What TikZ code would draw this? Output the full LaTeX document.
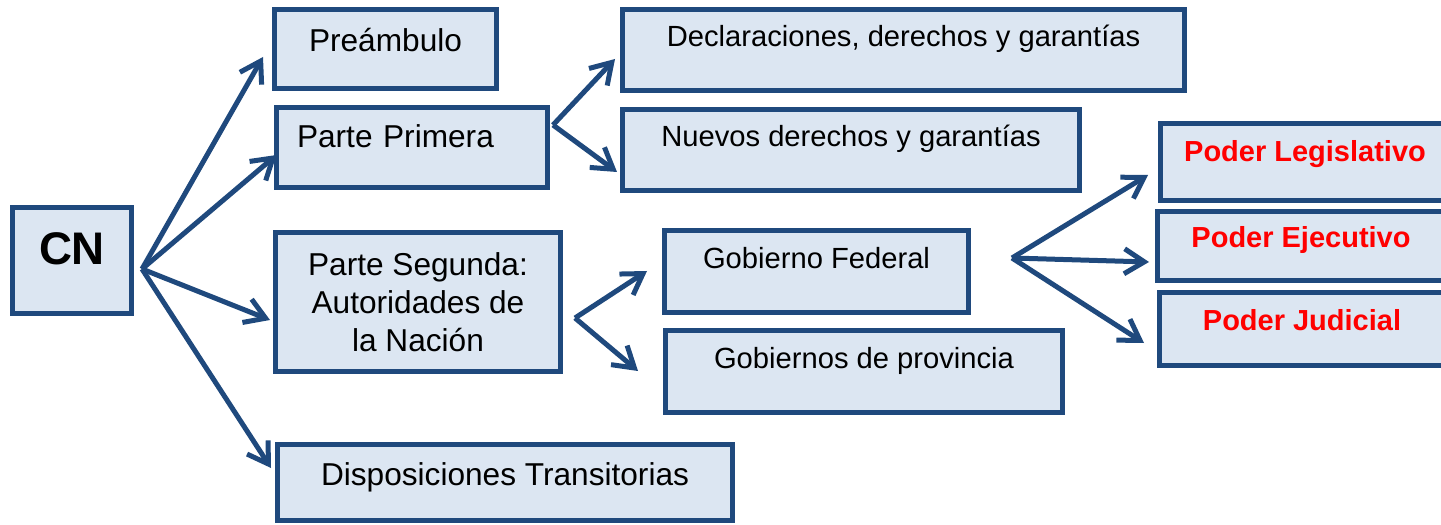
\documentclass[tikz,border=0pt]{standalone}
\usepackage{fontspec}
\setmainfont{Liberation Sans}
\usetikzlibrary{arrows.meta,calc}

\definecolor{azul}{HTML}{1F497D}
\definecolor{celeste}{HTML}{DCE6F2}

\tikzstyle{caja}=[draw=azul,fill=celeste,line width=1mm,inner sep=0pt,outer sep=0pt,anchor=north west,font=\fontsize{18}{21.6}\selectfont]
\tikzstyle{chica}=[font=\fontsize{16.6}{20}\selectfont]
\tikzstyle{poder}=[text=red,font=\fontsize{16.5}{20}\selectfont\bfseries]
\tikzstyle{flecha}=[draw=azul,line width=1mm,-{Straight Barb[length=4mm,width=5mm]}]

\begin{document}
\begin{tikzpicture}[x=0.2mm,y=-0.2mm]

\path[use as bounding box] (0,0) rectangle (1441,525);
\clip (0,0) rectangle (1441,525);

% CONSTITUCION

\node[caja,minimum width=23.8mm,text height=11.5mm,text depth=9.7mm,font=\fontsize{26}{30}\selectfont\bfseries] (cn) at (12.5,207.5) {CN};
\coordinate (cnout) at (142,269);

% PRIMER NIVEL

\node[caja,minimum width=44.4mm,text height=8.5mm,text depth=7.3mm] (pre) at (274.5,9.5) {Preámbulo};
\node[caja,text width=46mm,inner xsep=4.1mm,align=left,text height=8.1mm,text depth=7.9mm] (pp) at (276.5,107.5) {Parte Primera};
\node[caja,minimum width=57mm,minimum height=27.8mm,align=center] (ps) at (275.5,232.5) {Parte Segunda:\\Autoridades de\\la Nación};
\node[caja,minimum width=91mm,text height=8.1mm,text depth=7.1mm] (dt) at (277.5,444.5) {Disposiciones Transitorias};

% PARTE PRIMERA

\node[caja,chica,minimum width=112.4mm,text height=7.5mm,text depth=8.7mm] (dec) at (622.5,9.5) {Declaraciones, derechos y garantías};
\node[caja,chica,minimum width=91.4mm,text height=7.5mm,text depth=8.7mm] (nue) at (622.5,109.5) {Nuevos derechos y garantías};
\coordinate (ppout) at (553,125);

% PARTE SEGUNDA

\node[caja,chica,minimum width=60.8mm,text height=7.7mm,text depth=8.7mm] (gf) at (664.5,230.5) {Gobierno Federal};
\node[caja,chica,minimum width=79.4mm,text height=7.5mm,text depth=8.9mm] (gp) at (665.5,330.5) {Gobiernos de provincia};
\coordinate (psout) at (575,318);

% PODERES

\node[caja,poder,minimum width=57.8mm,text height=7.7mm,text depth=7.7mm] (pl) at (1160.5,123.5) {Poder Legislativo};
\node[caja,poder,minimum width=57.4mm,text height=7.3mm,text depth=6.5mm] (pe) at (1157.5,211.5) {Poder Ejecutivo};
\node[caja,poder,minimum width=57mm,text height=7.7mm,text depth=6.9mm] (pj) at (1159.5,292.5) {Poder Judicial};
\coordinate (gfout) at (1012,258);

% FLECHAS

\draw[flecha] (cnout) -- ($(pre.west)+(-11.5,8)$);
\draw[flecha] (cnout) -- ($(pp.west)+(0,7.5)$);
\draw[flecha] (cnout) -- ($(ps.west)+(-5.5,18)$);
\draw[flecha] (cnout) -- ($(dt.west)+(-6.5,-14.5)$);

\draw[flecha] (ppout) -- ($(dec.west)+(-7.5,9)$);
\draw[flecha] (ppout) -- ($(nue.west)+(-5.5,22)$);

\draw[flecha] (psout) -- ($(gf.west)+(-17.5,-0.5)$);
\draw[flecha] (psout) -- ($(gp.west)+(-27.5,-0.5)$);

\draw[flecha] (gfout) -- ($(pl.west)+(-12.5,13)$);
\draw[flecha] (gfout) -- ($(pe.west)+(-8.5,16)$);
\draw[flecha] (gfout) -- ($(pj.west)+(-15.5,14)$);

\end{tikzpicture}
\end{document}
